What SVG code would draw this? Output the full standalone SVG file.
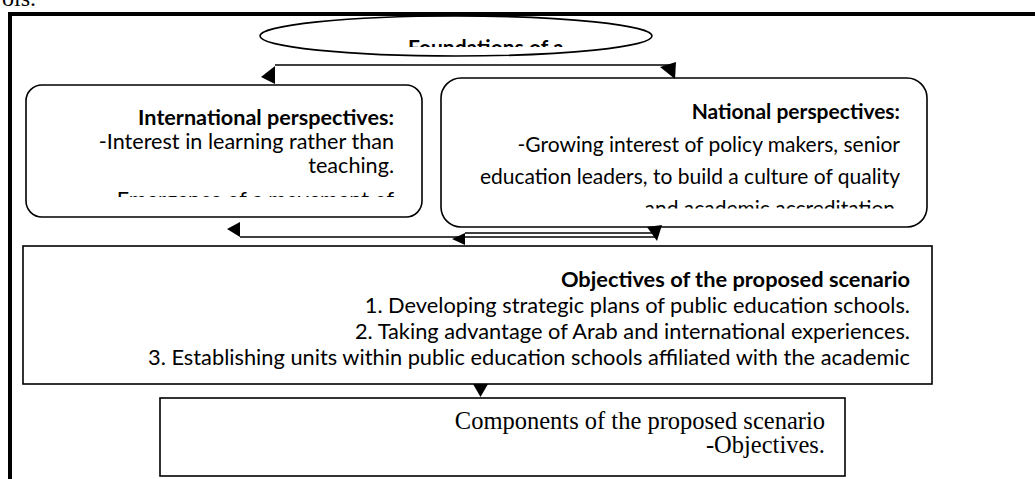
<svg xmlns="http://www.w3.org/2000/svg" width="1035" height="479" viewBox="0 0 1035 479">
<style>
.box{fill:#fff;stroke:#000;stroke-width:1.6}
.b{font-family:Lato,"Open Sans",sans-serif;font-weight:bold;font-size:21px;text-anchor:end;fill:#000}
.r{font-family:Lato,"Open Sans",sans-serif;font-size:21px;text-anchor:end;fill:#000}
.t{font-family:"Liberation Serif","Times New Roman",serif;font-size:24.5px;text-anchor:end;fill:#000}
.ln{fill:none;stroke:#000;stroke-width:1.6}
.ah{fill:#000;stroke:none}
</style>
<defs>
<clipPath id="cEll"><rect x="260" y="14" width="400" height="33"/></clipPath>
<clipPath id="cInt"><rect x="26" y="85" width="396" height="112"/></clipPath>
<clipPath id="cNat"><rect x="441" y="78" width="486" height="130.5"/></clipPath>
</defs>
<rect width="1035" height="479" fill="#fff"/>
<text x="36" y="6" font-family="Liberation Serif,serif" font-size="24" text-anchor="end">ols.</text>
<rect x="10" y="14" width="1040" height="480" fill="none" stroke="#000" stroke-width="4"/>

<g id="foundations">
<ellipse cx="456" cy="36" rx="196" ry="20" class="box"/>
<text x="408" y="55" class="b" style="text-anchor:start" clip-path="url(#cEll)">Foundations of a</text>
</g>

<g id="international">
<rect x="26" y="85" width="396" height="132" rx="16" class="box"/>
<g clip-path="url(#cInt)">
<text x="394" y="125" class="b" style="font-size:21.6px">International perspectives:</text>
<text x="394" y="149" class="r" style="font-size:21.6px">-Interest in learning rather than</text>
<text x="394" y="173" class="r" style="font-size:21.6px">teaching.</text>
<text x="394" y="206.5" class="r" style="font-size:21.6px">-Emergence of a movement of</text>
</g>
</g>

<g id="national">
<rect x="441" y="78" width="486" height="149" rx="20" class="box"/>
<g clip-path="url(#cNat)">
<text x="900" y="119" class="b">National perspectives:</text>
<text x="900" y="151.5" class="r">-Growing interest of policy makers, senior</text>
<text x="900" y="184" class="r">education leaders, to build a culture of quality</text>
<text x="900" y="215.5" class="r">and academic accreditation.</text>
</g>
</g>

<g id="objectives">
<rect x="23" y="246" width="909" height="138" class="box"/>
<text x="910" y="287" class="b" style="font-size:21.8px">Objectives of the proposed scenario</text>
<text x="910" y="313" class="r" style="font-size:21.8px">1. Developing strategic plans of public education schools.</text>
<text x="910" y="339" class="r" style="font-size:21.8px">2. Taking advantage of Arab and international experiences.</text>
<text x="910" y="365" class="r" style="font-size:21.8px">3. Establishing units within public education schools affiliated with the academic</text>
</g>

<g id="components">
<rect x="160" y="398" width="685" height="78" class="box"/>
<text x="825" y="429" class="t">Components of the proposed scenario</text>
<text x="825" y="453" class="t">-Objectives.</text>
</g>

<g id="connectors">
<path class="ln" d="M275 65 H672"/>
<polygon class="ah" points="275,66 275,84 261,77"/>
<polygon class="ah" points="660,67 676,62 675,79"/>
<path class="ln" d="M240 237 H657"/>
<path class="ln" d="M465 233 H657"/>
<polygon class="ah" points="240,222 240,237 227,229"/>
<polygon class="ah" points="465,233 465,245 452,239"/>
<polygon class="ah" points="647,227 662,225 657,241"/>
<polygon class="ah" points="473,384 488,384 480.5,397"/>
</g>
</svg>
